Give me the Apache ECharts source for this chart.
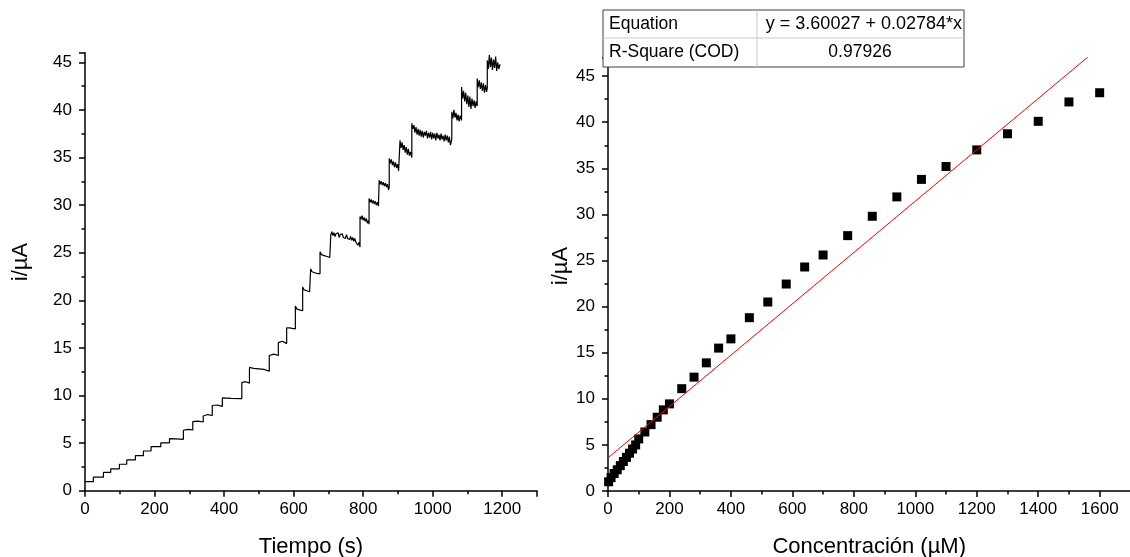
<!DOCTYPE html>
<html>
<head>
<meta charset="utf-8">
<script src="https://cdn.jsdelivr.net/npm/echarts@6/dist/echarts.min.js"></script>
<style>
html,body{margin:0;padding:0;background:#fff;}
#c{width:1130px;height:557px;}
</style>
</head>
<body>
<div id="c"></div>
<script>
// Left panel: amperometric current vs time [t (s), i (µA)]
const amperometry = [
 [0,0.95],[24,0.95],[24,1.42],[53,1.42],[53,1.92],[74,1.92],[74,2.3],[99,2.3],[99,2.78],[120,2.78],
 [120,3.23],[145,3.23],[145,3.68],[168,3.68],[168,4.17],[190,4.17],[190,4.62],[218,4.62],[218,5.03],[243,5.03],
 [243,5.47],[262,5.45],[283,5.4],[283,6.35],[296,6.45],[310,6.38],[310,7.25],[325,7.3],[340,7.22],[340,7.85],
 [353,8.0],[366,7.9],[366,8.95],[380,9.0],[395,8.85],[395,9.75],[420,9.7],[451,9.68],[451,11.35],[462,11.45],
 [473,11.3],[473,12.95],[485,12.85],[500,12.8],[515,12.75],[530,12.55],[530,14.2],[543,14.35],[556,14.2],[556,15.55],
 [568,15.7],[580,15.45],[580,17.1],[584,17.3],[588,17.1],[592,17.25],[596,17.05],[600,17.2],[605,17.0],
 [605,19.4],[609,19.1],[613,19.3],[617,19.0],[621,19.2],[626,18.9],
 [626,21.4],[630,21.1],[634,21.3],[638,21.0],[642,21.2],[646,20.9],[649,21.0],
 [649,23.3],[653,23.0],[657,23.2],[661,22.9],[665,23.1],[669,22.8],[673,23.0],[676,22.8],
 [676,25.1],[680,24.8],[684,25.0],[688,24.7],[692,24.9],[696,24.6],[700,24.8],[704,24.5],[707,24.7],
 [707,26.9],[710,27.2],[713,26.8],[716,27.1],[719,26.7],[722,27.0],[725,26.8],[728,27.1],[731,26.6],[734,26.9],
 [737,26.7],[740,27.0],[743,26.6],[746,26.8],[749,26.5],[752,26.9],[755,26.5],[758,26.7],[761,26.4],[764,26.7],
 [767,26.3],[770,26.6],[773,26.2],[776,26.5],[779,26.1],[782,26.3],[785,25.8],[788,26.1],[791,25.6],
 [791,28.8],[794,28.5],[797,28.9],[800,28.4],[803,28.7],[806,28.3],[809,28.6],[812,28.1],[815,28.4],[817,28.0],
 [817,30.7],[820,30.3],[823,30.6],[826,30.2],[829,30.5],[832,30.1],[835,30.4],[838,30.0],[841,30.3],[844,29.9],[846,30.1],
 [846,32.6],[849,32.2],[852,32.5],[855,32.1],[858,32.4],[861,32.0],[864,32.3],[867,31.9],[870,32.2],[873,31.6],[875,31.9],
 [875,34.9],[878,34.4],[881,34.8],[884,34.2],[887,34.6],[890,34.0],[893,34.5],[896,33.9],[899,34.3],[902,33.6],[906,33.8],
 [906,36.8],[909,36.0],[912,36.6],[915,35.8],[918,36.3],[921,35.5],[924,36.1],[927,35.3],[930,35.9],[933,35.2],[936,35.6],[940,35.0],
 [940,38.6],[943,38.0],[946,38.4],[949,37.6],[952,38.2],[955,37.4],[958,38.0],[961,37.3],[964,37.9],[967,37.2],
 [970,37.8],[973,37.1],[976,37.7],[979,37.3],[982,37.8],[985,37.0],[988,37.6],[991,37.1],[994,37.7],[997,36.9],
 [1000,37.6],[1003,37.0],[1006,37.5],[1009,36.8],[1012,37.6],[1015,37.0],[1018,37.4],[1021,36.8],[1024,37.5],[1027,36.9],
 [1030,37.3],[1033,36.7],[1036,37.4],[1039,36.8],[1042,37.3],[1045,36.6],[1048,37.2],[1051,36.3],[1055,36.9],
 [1055,39.8],[1058,39.1],[1061,40.0],[1064,39.2],[1067,39.7],[1070,38.9],[1073,39.5],[1076,38.8],[1079,39.4],[1083,38.9],
 [1083,42.4],[1086,41.2],[1089,42.0],[1092,40.9],[1095,41.8],[1098,40.6],[1101,41.5],[1104,40.3],[1107,41.4],[1110,40.1],
 [1113,41.2],[1116,40.4],[1119,41.0],[1122,40.2],[1125,40.9],[1128,40.4],
 [1128,43.3],[1131,42.4],[1134,43.1],[1137,42.2],[1140,42.9],[1143,42.0],[1146,42.8],[1149,41.8],[1152,42.6],[1155,41.9],[1157,42.3],
 [1157,45.2],[1160,44.3],[1163,45.8],[1166,44.5],[1169,45.5],[1172,44.2],[1175,45.3],[1178,44.4],[1181,45.6],[1184,44.1],
 [1187,45.0],[1190,44.3],[1194,44.8]
];

// Right panel: calibration points
const concUM = [2,10,20,30,40,50,60,70,80,90,100,120,140,160,180,200,240,280,320,360,400,460,520,580,640,700,780,860,940,1020,1100,1200,1300,1400,1500,1600];
const currUA = [1.0,1.45,1.9,2.3,2.75,3.2,3.65,4.1,4.55,5.0,5.65,6.4,7.2,8.0,8.8,9.45,11.1,12.35,13.9,15.5,16.5,18.8,20.5,22.45,24.3,25.6,27.7,29.8,31.9,33.8,35.2,37.0,38.75,40.1,42.2,43.2];

// Linear fit shown in the table
const fitIntercept = 3.60027;
const fitSlope = 0.02784;
const fitR2 = 0.97926;
const fitRangeX = [0, 1600];

const tableRows = [
  ['Equation', 'y = ' + fitIntercept + ' + ' + fitSlope + '*x'],
  ['R-Square (COD)', String(fitR2)]
];
const yTitle = 'i/µA';

const FONT = "'Liberation Sans', Arial, sans-serif";
const plain = v => String(v);

function axisCommon(){
  return {
    axisLine:{show:true,onZero:false,lineStyle:{color:'#000',width:1.5}},
    axisTick:{show:true,inside:false,length:6,lineStyle:{color:'#000',width:1.5}},
    minorTick:{show:true,splitNumber:2,length:3.5,lineStyle:{color:'#000',width:1.5}},
    splitLine:{show:false},
    minorSplitLine:{show:false},
    nameTextStyle:{color:'#000',fontSize:22,fontFamily:FONT},
    nameLocation:'middle'
  };
}
function lbl(margin){
  return {color:'#000',fontSize:17,fontFamily:FONT,margin:margin,showMaxLabel:false,formatter:plain};
}

const chart = echarts.init(document.getElementById('c'), null, {renderer:'canvas'});

const fitData = fitRangeX.map(x => [x, fitIntercept + fitSlope * x]);

const option = {
  animation:false,
  backgroundColor:'#fff',
  grid:[
    {left:85, top:52.8, width:452, height:437.9, outerBoundsMode:'none', containLabel:false},
    {left:608, top:57.7, width:522.4, height:433.3, outerBoundsMode:'none', containLabel:false}
  ],
  xAxis:[
    Object.assign(axisCommon(), {gridIndex:0,type:'value',min:0,max:1300,interval:200,name:'Tiempo (s)',nameGap:45,axisLabel:lbl(10)}),
    Object.assign(axisCommon(), {gridIndex:1,type:'value',min:0,max:1700,interval:200,name:'Concentración (µM)',nameGap:45,axisLabel:lbl(10)})
  ],
  yAxis:[
    Object.assign(axisCommon(), {gridIndex:0,type:'value',min:0,max:46,interval:5,axisLabel:lbl(13)}),
    Object.assign(axisCommon(), {gridIndex:1,type:'value',min:0,max:47,interval:5,axisLabel:lbl(13)})
  ],
  series:[
    {type:'line',xAxisIndex:0,yAxisIndex:0,data:amperometry,showSymbol:false,symbol:'none',
      lineStyle:{color:'#000',width:1.2},sampling:null,z:2},
    {type:'scatter',xAxisIndex:1,yAxisIndex:1,data:concUM.map((c,k)=>[c,currUA[k]]),
      symbol:'rect',symbolSize:9,itemStyle:{color:'#000',opacity:1},z:2},
    {type:'line',xAxisIndex:1,yAxisIndex:1,data:fitData,showSymbol:false,symbol:'none',
      lineStyle:{color:'#ff0000',width:1},clip:true,z:3}
  ],
  graphic:[
    {type:'text',x:21,y:262,rotation:Math.PI/2,style:{text:yTitle,font:'22px '+FONT,fill:'#000',align:'center',verticalAlign:'middle'},z:12},
    {type:'text',x:561,y:266,rotation:Math.PI/2,style:{text:yTitle,font:'22px '+FONT,fill:'#000',align:'center',verticalAlign:'middle'},z:12},
    {type:'rect',shape:{x:603,y:10,width:361,height:57},style:{fill:'#fff',stroke:'#404040',lineWidth:1},z:10},
    {type:'line',shape:{x1:603,y1:38,x2:964,y2:38},style:{stroke:'#c8c8c8',lineWidth:1},z:11},
    {type:'line',shape:{x1:757,y1:10,x2:757,y2:67},style:{stroke:'#c8c8c8',lineWidth:1},z:11},
    {type:'text',x:609,y:24,style:{text:tableRows[0][0],font:'17.5px '+FONT,fill:'#000',verticalAlign:'middle'},z:12},
    {type:'text',x:609,y:52,style:{text:tableRows[1][0],font:'17.5px '+FONT,fill:'#000',verticalAlign:'middle'},z:12},
    {type:'text',x:962,y:24,style:{text:tableRows[0][1],font:'18px '+FONT,fill:'#000',align:'right',verticalAlign:'middle'},z:12},
    {type:'text',x:860,y:52,style:{text:tableRows[1][1],font:'17.5px '+FONT,fill:'#000',align:'center',verticalAlign:'middle'},z:12}
  ]
};
chart.setOption(option);
</script>
</body>
</html>
